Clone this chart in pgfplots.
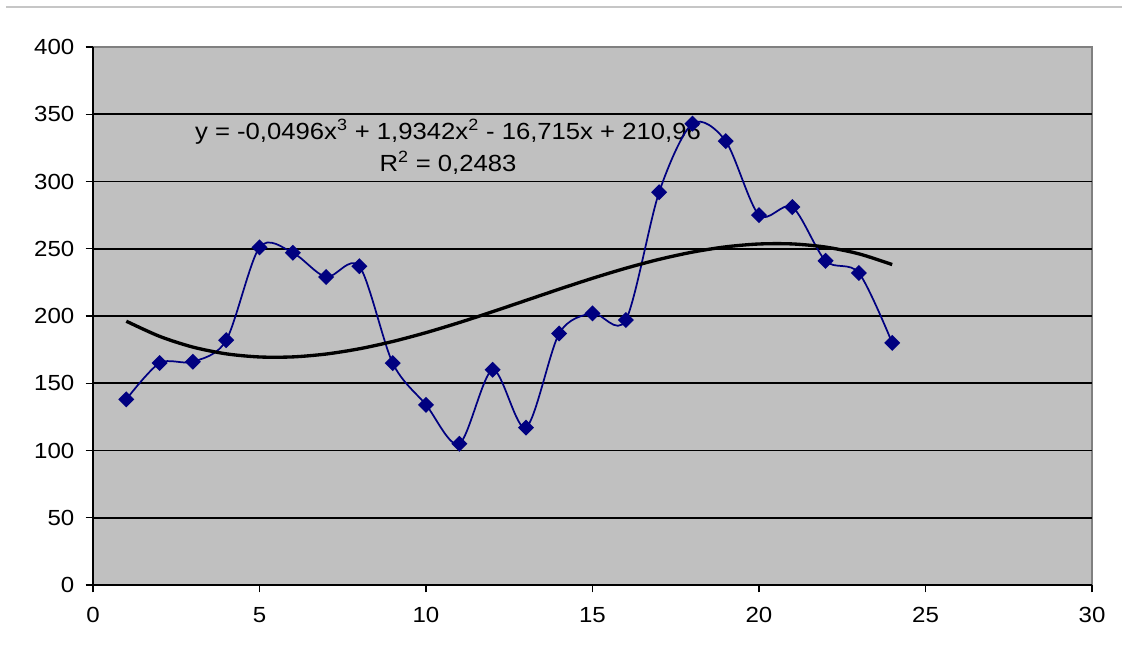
\documentclass[border=0pt]{standalone}
\usepackage{fontspec}
\setmainfont{Liberation Sans}[FakeStretch=1.1]
\usepackage{pgfplots}
\pgfplotsset{compat=1.18}
\definecolor{plotbg}{RGB}{192,192,192}
\definecolor{navy}{RGB}{0,0,128}
\begin{document}
\begin{tikzpicture}
\begin{axis}[
  at={(0,0)}, anchor=south west, scale only axis,
  width=749.25pt, height=403.5pt,
  xmin=0, xmax=30, ymin=0, ymax=400,
  xtick={0,5,...,30}, ytick={0,50,...,350},
  extra y ticks={400}, extra y tick style={grid=none},
  axis x line*=bottom, axis y line*=left,
  axis line style={black, line width=1.2pt, -},
  axis background/.style={fill=plotbg, draw=gray, line width=1.2pt},
  ymajorgrids, grid style={black, line width=1.3pt},
  tick align=outside, major tick length=5.5pt,
  tick style={black, line width=1pt},
  /pgf/number format/assume math mode=true,
  ticklabel style={font=\fontsize{16.4}{18}\selectfont},
  xticklabel style={yshift=-8pt},
  yticklabel style={xshift=-5pt},
]
\node[font=\fontsize{17.5}{24}\selectfont, align=center] at (axis cs:10.66,325.7)
  {y = -0,0496x\textsuperscript{3} + 1,9342x\textsuperscript{2} - 16,715x + 210,96\\R\textsuperscript{2} = 0,2483};
\addplot[navy, line width=1.3pt, smooth, tension=0.5, mark=square*, mark size=3.6pt,
  mark options={rotate=45, fill=navy, solid}] coordinates {
  (1,138) (2,165) (3,166) (4,182) (5,251) (6,247) (7,229) (8,237)
  (9,165) (10,134) (11,105) (12,160) (13,117) (14,187) (15,202) (16,197)
  (17,292) (18,343) (19,330) (20,275) (21,281) (22,241) (23,232) (24,180)
};
\addplot[black, line width=2.5pt, smooth, no markers] coordinates {
  (1,196.13) (2,184.87) (3,176.88) (4,171.87) (5,169.54) (6,169.59)
  (7,171.72) (8,175.63) (9,181.04) (10,187.63) (11,195.12) (12,203.20)
  (13,211.57) (14,219.95) (15,228.03) (16,235.51) (17,242.10) (18,247.50)
  (19,251.41) (20,253.54) (21,253.58) (22,251.24) (23,246.22) (24,238.23)
};
\end{axis}
\draw[gray!45, line width=0.8pt] (-65.25pt,433.5pt) -- (771.75pt,433.5pt);
\pgfresetboundingbox
\path (-69.75pt,-56.25pt) rectangle (771.75pt,438.75pt);
\end{tikzpicture}
\end{document}
